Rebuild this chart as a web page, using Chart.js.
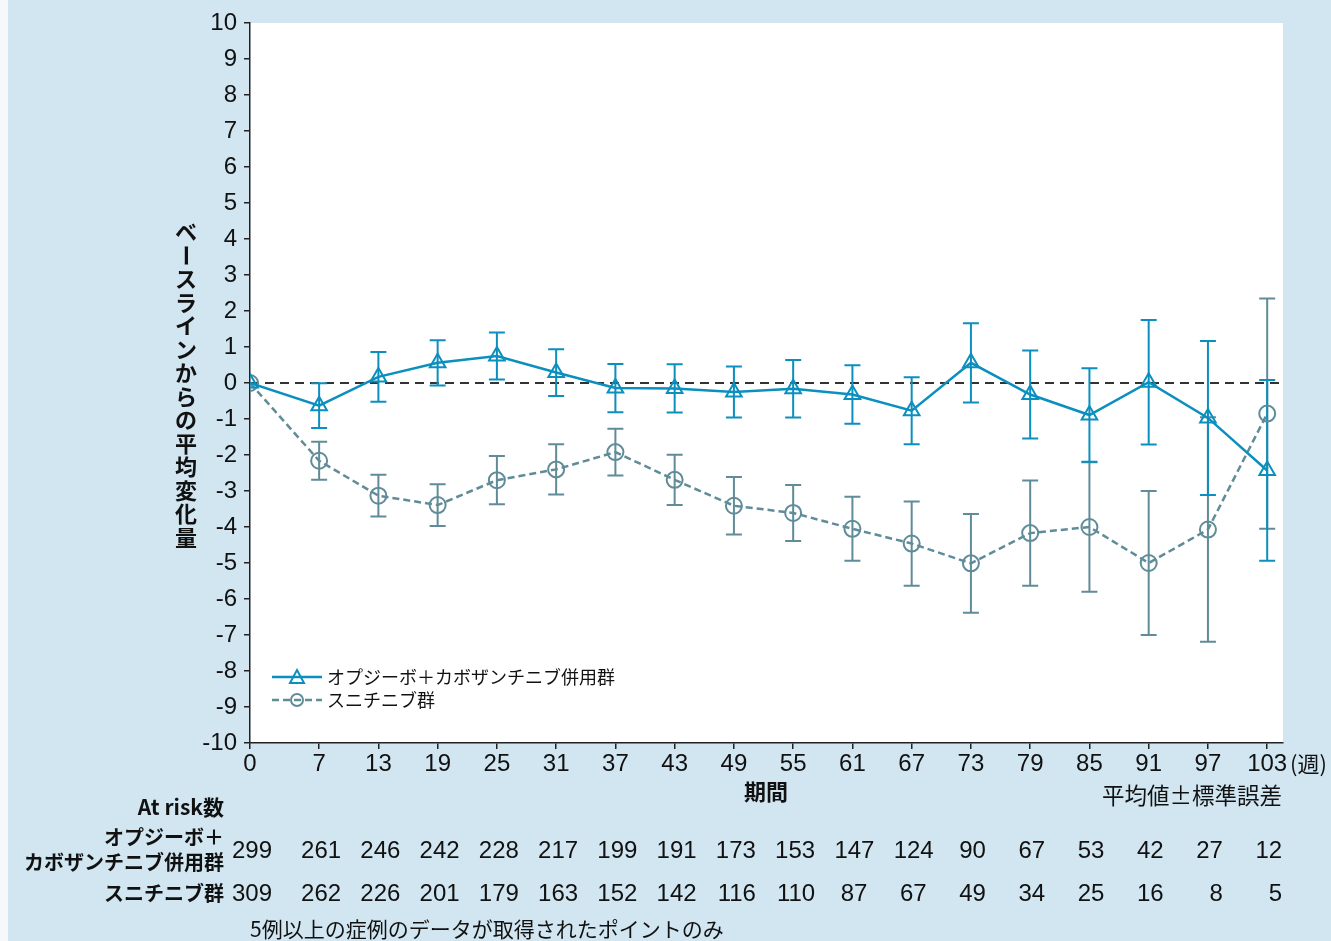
<!DOCTYPE html>
<html>
<head>
<meta charset="utf-8">
<script src="https://cdn.jsdelivr.net/npm/chart.js@4/dist/chart.umd.min.js"></script>
<style>
html,body{margin:0;padding:0;background:#d1e6f1;}
canvas{display:block;}
</style>
</head>
<body>
<canvas id="c" width="1331" height="941"></canvas>
<script>
// ---- data ----
const weeks = [0, 7, 13, 19, 25, 31, 37, 43, 49, 55, 61, 67, 73, 79, 85, 91, 97, 103];
const comboMean = [0, -0.63, 0.17, 0.56, 0.75, 0.29, -0.14, -0.15, -0.25, -0.16, -0.32, -0.77, 0.56, -0.32, -0.89, 0.02, -0.97, -2.43];
const comboSE   = [0, 0.62, 0.69, 0.63, 0.65, 0.65, 0.67, 0.67, 0.71, 0.80, 0.81, 0.93, 1.10, 1.22, 1.30, 1.73, 2.14, 2.51];
const suniMean  = [0, -2.16, -3.13, -3.39, -2.70, -2.40, -1.92, -2.69, -3.41, -3.61, -4.05, -4.46, -5.01, -4.17, -4.00, -5.00, -4.07, -0.85];
const suniSE    = [0, 0.53, 0.58, 0.58, 0.67, 0.70, 0.65, 0.70, 0.80, 0.78, 0.89, 1.17, 1.37, 1.46, 1.80, 2.00, 3.12, 3.20];
const comboRisk = [299, 261, 246, 242, 228, 217, 199, 191, 173, 153, 147, 124, 90, 67, 53, 42, 27, 12];
const suniRisk  = [309, 262, 226, 201, 179, 163, 152, 142, 116, 110, 87, 67, 49, 34, 25, 16, 8, 5];
const yTicks = [-10,-9,-8,-7,-6,-5,-4,-3,-2,-1,0,1,2,3,4,5,6,7,8,9,10];
const comboName = 'オプジーボ＋カボザンチニブ併用群';
const suniName = 'スニチニブ群';
const yTitle = 'ベースラインからの平均変化量';

const BLUE = '#0b8fbe';
const GRAY = '#5f8c98';
const NUM = '"Liberation Sans", Arial, sans-serif';
const JP = '"Noto Sans CJK JP", sans-serif';

const customDraw = {
  id: 'customDraw',
  beforeDraw(chart) {
    const ctx = chart.ctx, a = chart.chartArea;
    ctx.save();
    ctx.fillStyle = '#d1e6f1';
    ctx.fillRect(0, 0, chart.width, chart.height);
    ctx.fillStyle = '#f6f8f9';
    ctx.fillRect(0, 0, 8, chart.height);
    ctx.fillStyle = '#ffffff';
    ctx.fillRect(a.left, a.top, a.right - a.left, a.bottom - a.top);
    ctx.restore();
  },
  beforeDatasetsDraw(chart) {
    const ctx = chart.ctx, a = chart.chartArea;
    const xs = chart.scales.x, ys = chart.scales.y;
    ctx.save();
    // zero reference line
    ctx.strokeStyle = '#333';
    ctx.lineWidth = 2;
    ctx.setLineDash([9, 6]);
    ctx.beginPath();
    ctx.moveTo(a.left, ys.getPixelForValue(0));
    ctx.lineTo(a.right, ys.getPixelForValue(0));
    ctx.stroke();
    ctx.setLineDash([]);
    // error bars
    const drawErr = (means, ses, color) => {
      ctx.strokeStyle = color;
      ctx.lineWidth = 2;
      weeks.forEach((w, i) => {
        if (!ses[i]) return;
        const x = xs.getPixelForValue(w);
        const y1 = ys.getPixelForValue(means[i] + ses[i]);
        const y2 = ys.getPixelForValue(means[i] - ses[i]);
        ctx.beginPath();
        ctx.moveTo(x, y1); ctx.lineTo(x, y2);
        ctx.moveTo(x - 8, y1); ctx.lineTo(x + 8, y1);
        ctx.moveTo(x - 8, y2); ctx.lineTo(x + 8, y2);
        ctx.stroke();
      });
    };
    drawErr(suniMean, suniSE, GRAY);
    drawErr(comboMean, comboSE, BLUE);
    ctx.restore();
  },
  afterDraw(chart) {
    const ctx = chart.ctx;
    const xs = chart.scales.x;
    ctx.save();
    ctx.fillStyle = '#111';
    // legend
    const lx = 272, ly1 = 677, ly2 = 700;
    ctx.lineWidth = 2.5;
    ctx.strokeStyle = BLUE;
    ctx.beginPath(); ctx.moveTo(lx, ly1); ctx.lineTo(lx + 50, ly1); ctx.stroke();
    ctx.lineWidth = 2;
    ctx.beginPath();
    ctx.moveTo(lx + 25, ly1 - 7); ctx.lineTo(lx + 32, ly1 + 6); ctx.lineTo(lx + 18, ly1 + 6); ctx.closePath();
    ctx.stroke();
    ctx.strokeStyle = GRAY;
    ctx.lineWidth = 2.5;
    ctx.setLineDash([7, 4]);
    ctx.beginPath(); ctx.moveTo(lx, ly2); ctx.lineTo(lx + 50, ly2); ctx.stroke();
    ctx.setLineDash([]);
    ctx.lineWidth = 2;
    ctx.beginPath(); ctx.arc(lx + 25, ly2, 6, 0, Math.PI * 2); ctx.stroke();
    ctx.font = '18px ' + JP;
    ctx.textAlign = 'left';
    ctx.textBaseline = 'middle';
    ctx.fillText(comboName, lx + 55, ly1);
    ctx.fillText(suniName, lx + 55, ly2);

    // y title vertical (stacked)
    ctx.font = 'bold 22px ' + JP;
    ctx.textAlign = 'center';
    ctx.textBaseline = 'middle';
    const chars = Array.from(yTitle);
    chars.forEach((ch, i) => {
      const cy = 232 + i * 23.5;
      if (ch === 'ー') {
        ctx.save();
        ctx.translate(186, cy);
        ctx.rotate(Math.PI / 2);
        ctx.fillText(ch, 0, 0);
        ctx.restore();
      } else {
        ctx.fillText(ch, 186, cy);
      }
    });

    // (週)
    ctx.font = '22px ' + JP;
    ctx.textAlign = 'left';
    ctx.fillText('(週)', 1290, 764);

    // x title
    ctx.font = 'bold 22px ' + JP;
    ctx.textAlign = 'center';
    ctx.fillText('期間', 766, 792);

    ctx.font = '22.5px ' + JP;
    ctx.textAlign = 'right';
    ctx.fillText('平均値±標準誤差', 1282, 795);

    // at risk table labels
    ctx.font = 'bold 21px ' + JP;
    ctx.textAlign = 'right';
    ctx.fillText('At risk数', 224, 807);
    ctx.font = 'bold 20px ' + JP;
    ctx.fillText('オプジーボ＋', 224, 837);
    ctx.fillText('カボザンチニブ併用群', 224, 862);
    ctx.fillText(suniName, 224, 893);

    ctx.font = '24px ' + NUM;
    ctx.textAlign = 'right';
    const drawRow = (vals, y) => {
      vals.forEach((v, i) => {
        const x = xs.getPixelForValue(weeks[i]);
        ctx.fillText(String(v), x + (v >= 100 ? 22 : 15), y);
      });
    };
    drawRow(comboRisk, 851);
    drawRow(suniRisk, 894);

    // footnote
    ctx.font = '21px ' + JP;
    ctx.textAlign = 'left';
    ctx.fillText('5例以上の症例のデータが取得されたポイントのみ', 250, 929);
    ctx.restore();
  }
};

const toPts = (means) => weeks.map((w, i) => ({ x: w, y: means[i] }));

new Chart(document.getElementById('c'), {
  type: 'line',
  data: {
    datasets: [
      {
        label: comboName,
        data: toPts(comboMean),
        borderColor: BLUE,
        borderWidth: 2.5,
        pointStyle: 'triangle',
        pointRadius: 9,
        pointBorderWidth: 2,
        pointBorderColor: BLUE,
        pointBackgroundColor: 'rgba(0,0,0,0)',
        tension: 0
      },
      {
        label: suniName,
        data: toPts(suniMean),
        borderColor: GRAY,
        borderWidth: 2.5,
        borderDash: [7, 4],
        pointStyle: 'circle',
        pointRadius: 8,
        pointBorderWidth: 2,
        pointBorderColor: GRAY,
        pointBackgroundColor: 'rgba(0,0,0,0)',
        tension: 0
      }
    ]
  },
  options: {
    responsive: false,
    animation: false,
    devicePixelRatio: 1,
    layout: { padding: { left: 0, top: 23, right: 48, bottom: 0 } },
    plugins: { legend: { display: false }, tooltip: { enabled: false } },
    scales: {
      x: {
        type: 'linear',
        min: 0,
        max: 104.6,
        afterBuildTicks: (s) => { s.ticks = weeks.map(v => ({ value: v })); },
        afterFit: (s) => { s.height = 198; },
        ticks: {
          autoSkip: false,
          maxRotation: 0,
          color: '#111',
          font: { family: NUM, size: 24 },
          padding: 1
        },
        grid: { drawOnChartArea: false, drawTicks: true, tickLength: 6, color: '#222', lineWidth: 1.5 },
        border: { color: '#222', width: 1.5 }
      },
      y: {
        min: -10,
        max: 10,
        afterBuildTicks: (s) => { s.ticks = yTicks.map(v => ({ value: v })); },
        afterFit: (s) => { s.width = 250; },
        ticks: {
          color: '#111',
          font: { family: NUM, size: 24 },
          padding: 7
        },
        grid: { drawOnChartArea: false, drawTicks: true, tickLength: 6, color: '#222', lineWidth: 1.5 },
        border: { color: '#222', width: 1.5 }
      }
    }
  },
  plugins: [customDraw]
});
</script>
</body>
</html>
